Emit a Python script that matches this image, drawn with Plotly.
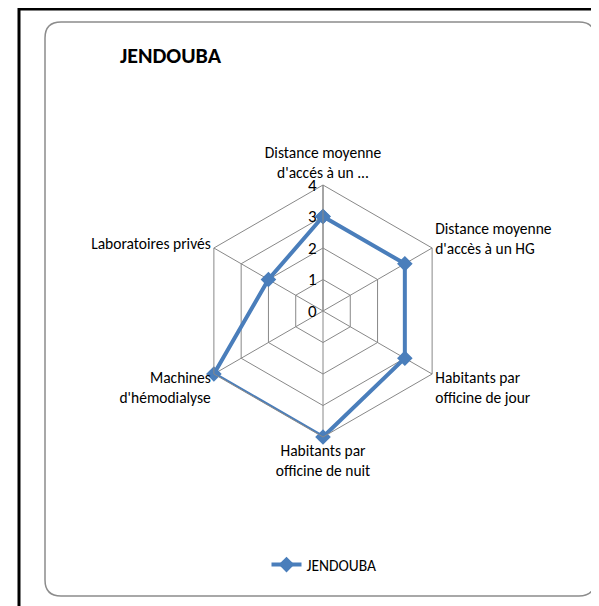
import plotly.graph_objects as go

# chart data
categories = ["Distance moyenne<br>d'accés à un ...",
              "Distance moyenne<br>d'accès à un HG",
              "Habitants par<br>officine de jour",
              "Habitants par<br>officine de nuit",
              "Machines<br>d'hémodialyse",
              "Laboratoires privés"]
values = [3, 3, 3, 4, 4, 2]
series_name = "JENDOUBA"
title_text = "JENDOUBA"

W, H = 599, 606
OFF = 8  # page body margin
FONT = "Carlito, Lato, sans-serif"
BLUE = "#4a7ebb"


def px(x):
    return (x - OFF) / W


def py(y):
    return 1 - (y - OFF) / H


def rounded_box(x0, y0, x1, y1, r):
    # path in paper fractions, corners rounded with quadratic curves
    pts = [
        f"M {px(x0 + r)} {py(y0)}",
        f"L {px(x1 - r)} {py(y0)}",
        f"Q {px(x1)} {py(y0)} {px(x1)} {py(y0 + r)}",
        f"L {px(x1)} {py(y1 - r)}",
        f"Q {px(x1)} {py(y1)} {px(x1 - r)} {py(y1)}",
        f"L {px(x0 + r)} {py(y1)}",
        f"Q {px(x0)} {py(y1)} {px(x0)} {py(y1 - r)}",
        f"L {px(x0)} {py(y0 + r)}",
        f"Q {px(x0)} {py(y0)} {px(x0 + r)} {py(y0)}",
        "Z",
    ]
    return " ".join(pts)


fig = go.Figure()
fig.add_trace(go.Scatterpolar(
    r=values + values[:1],
    theta=categories + categories[:1],
    mode="lines+markers",
    name=series_name,
    line=dict(color=BLUE, width=4),
    marker=dict(symbol="diamond", size=12, color=BLUE),
))

cx, cy, R = 323, 311, 126
fig.update_layout(
    width=W, height=H,
    margin=dict(l=0, r=0, t=0, b=0),
    paper_bgcolor="white",
    font=dict(family=FONT, size=15.5, color="black"),
    polar=dict(
        domain=dict(x=[px(cx - R), px(cx + R)], y=[py(cy + R), py(cy - R)]),
        bgcolor="white",
        gridshape="linear",
        radialaxis=dict(range=[0, 4], dtick=1, angle=90, tickangle=90,
                        side="counterclockwise",
                        showline=True, linecolor="#888888", linewidth=1,
                        gridcolor="#888888", gridwidth=1,
                        ticks="", tickfont=dict(size=17, family=FONT)),
        angularaxis=dict(direction="clockwise", rotation=90,
                         showline=True, linecolor="#888888", linewidth=1,
                         gridcolor="#888888", ticks="",
                         tickfont=dict(size=15.5, family=FONT)),
    ),
    showlegend=True,
    legend=dict(orientation="h", x=px(324), xanchor="center", y=py(565), yanchor="middle",
                font=dict(size=15.5, family=FONT), bgcolor="rgba(0,0,0,0)"),
    annotations=[dict(text="<b>" + title_text + "</b>", x=px(118), y=py(55),
                      xref="paper", yref="paper", xanchor="left", yanchor="middle",
                      showarrow=False, font=dict(size=22, family=FONT))],
    shapes=[
        dict(type="rect", xref="paper", yref="paper",
             x0=px(19), y0=py(640), x1=px(640), y1=py(9),
             line=dict(color="black", width=3)),
        dict(type="path", xref="paper", yref="paper",
             path=rounded_box(45, 22, 595, 596, 16),
             line=dict(color="#8c8c8c", width=1.5)),
    ],
)

fig.write_html("out.html")
